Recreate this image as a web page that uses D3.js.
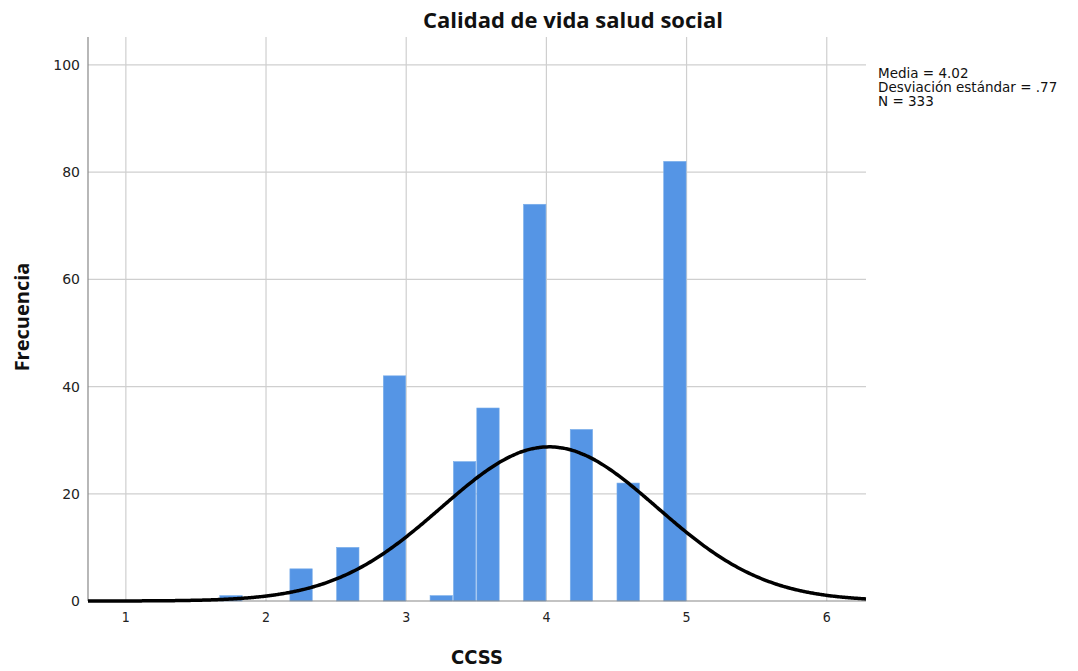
<!DOCTYPE html>
<html><head><meta charset="utf-8">
<script src="https://cdn.jsdelivr.net/npm/d3@7"></script>
<style>body{margin:0;background:#fff}svg{display:block}</style>
</head><body>
<script>
const binLo = [1.6667, 2.1667, 2.5, 2.8333, 3.1667, 3.3333, 3.5, 3.8333, 4.1667, 4.5, 4.8333];
const binHi = [1.8333, 2.3333, 2.6667, 3.0, 3.3333, 3.5, 3.6667, 4.0, 4.3333, 4.6667, 5.0];
const counts = [1, 6, 10, 42, 1, 26, 36, 74, 32, 22, 82];
const xTicks = [1, 2, 3, 4, 5, 6];
const yTicks = [0, 20, 40, 60, 80, 100];
const meanVal = 4.02, sdVal = 0.77, nVal = 333, binWidth = 1/6;
const statsLines = ["Media = 4.02", "Desviación estándar = .77", "N = 333"];

const W = 1078, H = 671;
const L = 88, R = 866, T = 37, B = 601;
const svg = d3.select("body").append("svg").attr("width", W).attr("height", H);
const x = d3.scaleLinear().domain([0.73, 6.28]).range([L, R]);
const y = d3.scaleLinear().domain([0, 105.2]).range([B, T]);
const font = "'Open Sans', 'DejaVu Sans', sans-serif";
const dv = "'DejaVu Sans', sans-serif";

// grid
svg.append("g").selectAll("line").data(yTicks.filter(d => d > 0)).join("line")
  .attr("x1", L).attr("x2", R).attr("y1", d => y(d)).attr("y2", d => y(d))
  .attr("stroke", "#cfcfcf").attr("stroke-width", 1.2);
svg.append("g").selectAll("line").data(xTicks).join("line")
  .attr("x1", d => x(d)).attr("x2", d => x(d)).attr("y1", T).attr("y2", B)
  .attr("stroke", "#cfcfcf").attr("stroke-width", 1.2);

// bars
const bars = binLo.map((lo, i) => ({lo, hi: binHi[i], c: counts[i]}));
svg.append("g").selectAll("rect").data(bars).join("rect")
  .attr("x", d => x(d.lo) + 0.5).attr("width", d => x(d.hi) - x(d.lo) - 1)
  .attr("y", d => y(d.c)).attr("height", d => y(0) - y(d.c))
  .attr("fill", "#5595e5").attr("stroke", "#7aaeea").attr("stroke-width", 0.6);

// axes lines
svg.append("line").attr("x1", L).attr("x2", L).attr("y1", T).attr("y2", B)
  .attr("stroke", "#888").attr("stroke-width", 1.2);
svg.append("line").attr("x1", L).attr("x2", R).attr("y1", B).attr("y2", B)
  .attr("stroke", "#888").attr("stroke-width", 1.2);

// normal curve
const pts = d3.range(0, 401).map(i => {
  const xv = 0.73 + (6.28 - 0.73) * i / 400;
  const z = (xv - meanVal) / sdVal;
  return [xv, nVal * binWidth / (sdVal * Math.sqrt(2 * Math.PI)) * Math.exp(-0.5 * z * z)];
});
svg.append("path").datum(pts)
  .attr("d", d3.line().x(d => x(d[0])).y(d => y(d[1])).curve(d3.curveBasis))
  .attr("fill", "none").attr("stroke", "#000").attr("stroke-width", 3.5);

// tick labels
svg.append("g").selectAll("text").data(yTicks).join("text")
  .attr("x", 80).attr("y", d => y(d) + 5).attr("text-anchor", "end")
  .attr("font-family", dv).attr("font-size", 14).attr("fill", "#222").text(d => d);
svg.append("g").selectAll("text").data(xTicks).join("text")
  .attr("x", d => x(d)).attr("y", 622).attr("text-anchor", "middle")
  .attr("font-family", "'DejaVu Sans Condensed', 'DejaVu Sans', sans-serif")
  .attr("font-size", 14).attr("fill", "#222").text(d => d);

// titles
svg.append("text").attr("x", 573).attr("y", 28).attr("text-anchor", "middle")
  .attr("font-family", font).attr("font-weight", "bold").attr("font-size", 22)
  .attr("fill", "#111").text("Calidad de vida salud social");
svg.append("text").attr("x", 477).attr("y", 664).attr("text-anchor", "middle")
  .attr("font-family", "'DejaVu Sans Condensed', 'Open Sans', sans-serif").attr("font-weight", "bold").attr("font-size", 20)
  .attr("fill", "#111").text("CCSS");
svg.append("text").attr("transform", "translate(29,317) rotate(-90)").attr("text-anchor", "middle")
  .attr("font-family", font).attr("font-weight", "bold").attr("font-size", 20)
  .attr("fill", "#111").text("Frecuencia");

// stats
svg.append("g").selectAll("text").data(statsLines).join("text")
  .attr("x", 878).attr("y", (d, i) => 78 + i * 14)
  .attr("font-family", dv).attr("font-size", 13.5).attr("fill", "#111").text(d => d);
</script>
</body></html>
